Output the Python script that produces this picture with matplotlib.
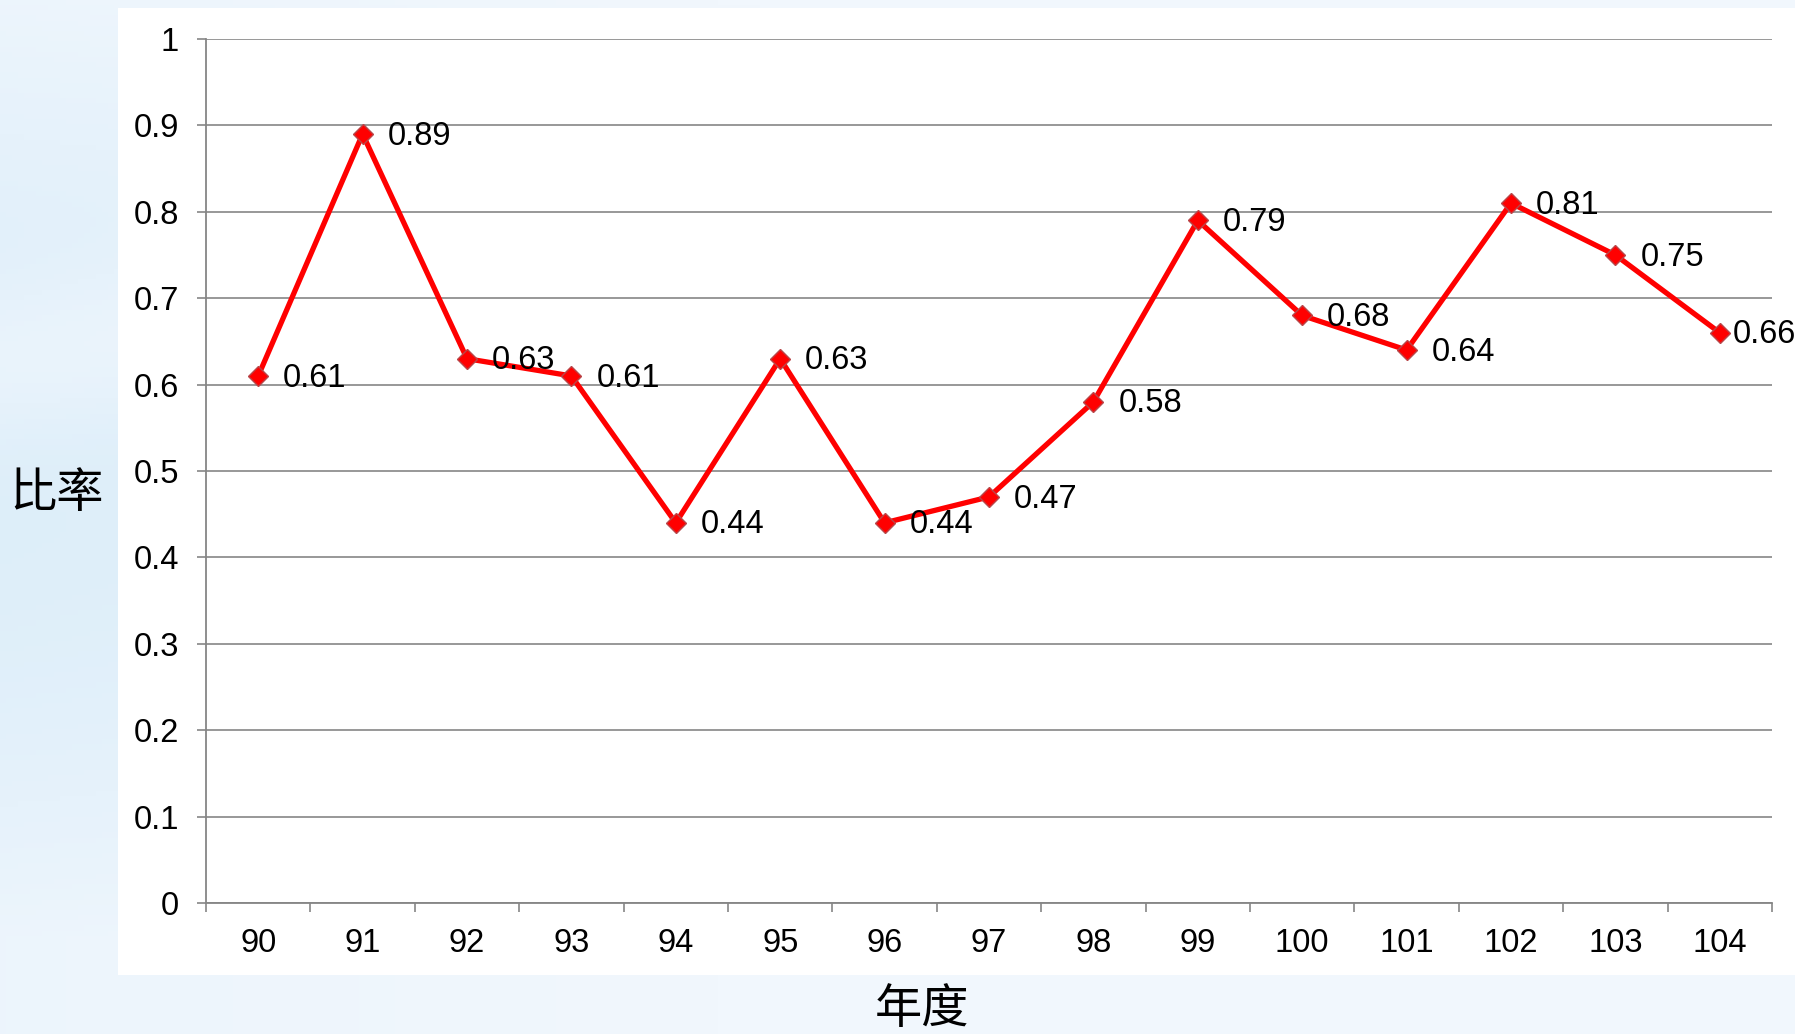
import matplotlib

matplotlib.use("Agg")
import matplotlib.pyplot as plt
import numpy as np
from matplotlib.colors import to_rgb
from matplotlib.patches import Circle, Rectangle

plt.rcParams["font.family"] = ["Liberation Sans", "Noto Sans CJK TC", "DejaVu Sans"]

# 年度 vs 比率
years = ["90", "91", "92", "93", "94", "95", "96", "97",
         "98", "99", "100", "101", "102", "103", "104"]
ratios = [0.61, 0.89, 0.63, 0.61, 0.44, 0.63, 0.44, 0.47,
          0.58, 0.79, 0.68, 0.64, 0.81, 0.75, 0.66]
yticks = [0, 0.1, 0.2, 0.3, 0.4, 0.5, 0.6, 0.7, 0.8, 0.9, 1]
ytick_labels = ["0", "0.1", "0.2", "0.3", "0.4", "0.5", "0.6", "0.7", "0.8", "0.9", "1"]

W, H, DPI = 1795, 1034, 100
fig = plt.figure(figsize=(W / DPI, H / DPI), dpi=DPI)

# pale blue slide background
bg = fig.add_axes([0, 0, 1, 1], zorder=-10)
yy, xx = np.mgrid[0:1:200j, 0:1:300j]
c_light = np.array(to_rgb("#f1f7fd"))
c_blue = np.array(to_rgb("#dbedf9"))
t = np.clip(0.2 + 0.7 * np.sin(np.pi * np.clip(yy * 1.1, 0, 1)) - 0.5 * xx, 0, 1)
streak = np.exp(-((yy - 0.35 + 0.25 * xx) / 0.08) ** 2) * (xx < 0.1)
t = np.clip(t - 0.5 * streak, 0, 1)
img = c_light[None, None, :] * (1 - t[..., None]) + c_blue[None, None, :] * t[..., None]
bg.imshow(img, aspect="auto", extent=[0, 1, 0, 1], origin="upper")
bg.add_patch(Circle((1.035, -0.06), 0.05, transform=bg.transAxes,
                    color="#1d3f78", zorder=2))
bg.add_patch(Circle((1.03, -0.045), 0.045, transform=bg.transAxes,
                    color="#5f86b8", zorder=1, alpha=0.6))
bg.set_xlim(0, 1)
bg.set_ylim(0, 1)
bg.axis("off")

# white chart area
fig.patches.append(Rectangle((118 / W, 1 - 975 / H), 1 - 118 / W, (975 - 8) / H,
                             transform=fig.transFigure, facecolor="white",
                             edgecolor="none", zorder=-5))

ax = fig.add_axes([206 / W, 1 - 903 / H, (1772 - 206) / W, (903 - 39) / H])
ax.set_facecolor("white")
x = np.arange(len(years))
ax.plot(x, ratios, color="#ff0000", lw=3.8, marker="D", ms=10.5,
        mfc="#ff0000", mec="#b8474a", mew=1.0, zorder=5, clip_on=False)

for i, v in enumerate(ratios):
    dx = 18 if i < len(ratios) - 1 else 9
    ax.annotate(f"{v:.2f}", (x[i], v), xytext=(dx, -1.5), textcoords="offset points",
                ha="left", va="center", fontsize=23.5, color="black", zorder=6,
                annotation_clip=False)

ax.set_xlim(-0.5, len(years) - 0.5)
ax.set_ylim(0, 1)
ax.set_yticks(yticks)
ax.set_yticklabels(ytick_labels)
ax.set_xticks(x)
ax.set_xticklabels(years)
ax.set_xticks(np.arange(-0.5, len(years), 1), minor=True)
ax.grid(axis="y", color="#868686", lw=1.2, zorder=1)
ax.set_axisbelow(True)

for s in ["top", "right"]:
    ax.spines[s].set_visible(False)
for s in ["left", "bottom"]:
    ax.spines[s].set_color("#868686")
    ax.spines[s].set_linewidth(1.3)

ax.tick_params(axis="y", length=6.5, width=1.2, color="#868686", pad=13, labelsize=23.5)
ax.tick_params(axis="x", which="major", length=0, pad=18, labelsize=23.5)
ax.tick_params(axis="x", which="minor", length=6.5, width=1.2, color="#868686")

cjk = ["Noto Sans CJK TC", "DejaVu Sans"]
fig.text(57 / W, 1 - 494 / H, "比率", fontsize=34, ha="center", va="center",
         family=cjk, fontweight="light")
fig.text(922 / W, 1 - 1010 / H, "年度", fontsize=34, ha="center", va="center",
         family=cjk, fontweight="light")

fig.savefig("out.png", dpi=DPI)
plt.close(fig)
